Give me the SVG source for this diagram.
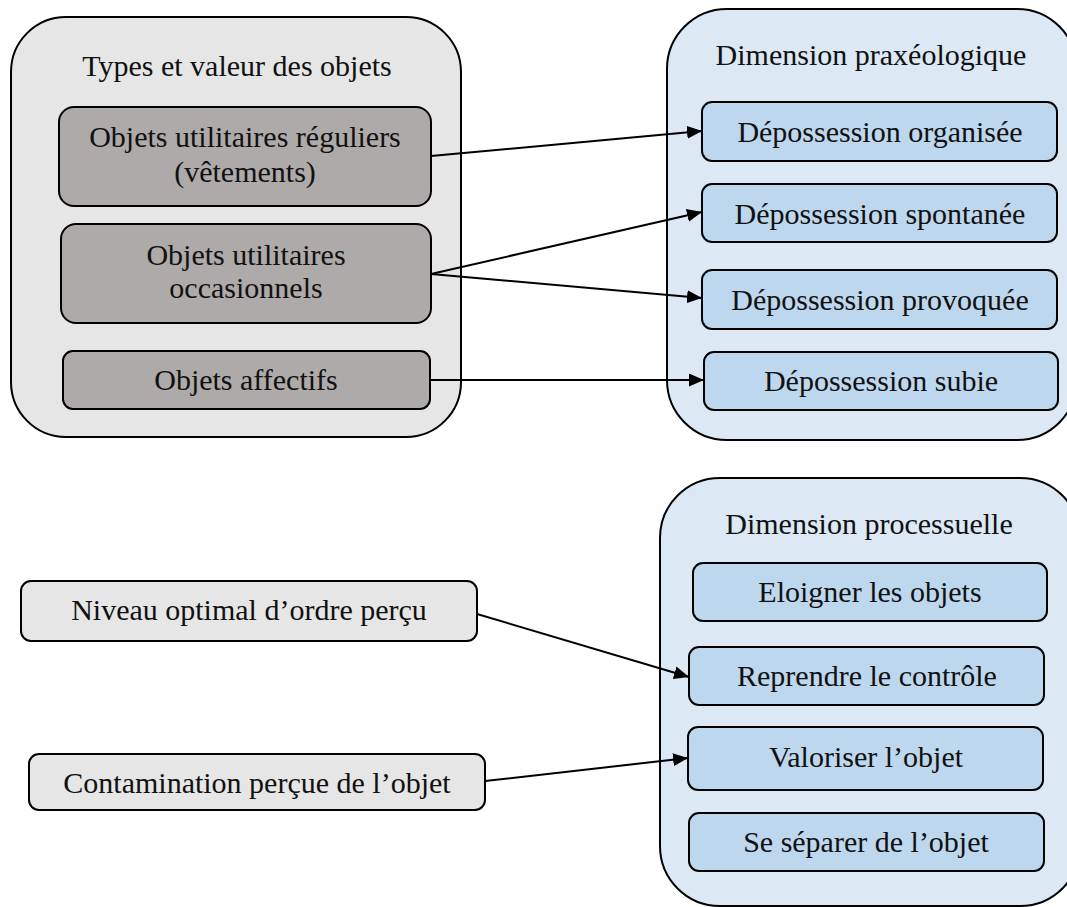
<svg xmlns="http://www.w3.org/2000/svg" width="1067" height="907" viewBox="0 0 1067 907">
<defs>
<style>
text{font-family:"Liberation Serif","DejaVu Serif",serif;font-size:30px;fill:#111;text-anchor:middle}
.outerg{fill:#e6e6e6;stroke:#000;stroke-width:2}
.outerb{fill:#dde8f5;stroke:#000;stroke-width:2}
.dark{fill:#aeaaaa;stroke:#000;stroke-width:2}
.blue{fill:#bdd7ee;stroke:#000;stroke-width:2}
.light{fill:#e6e6e6;stroke:#000;stroke-width:2}
.conn{stroke:#000;stroke-width:2;fill:none;marker-end:url(#arr)}
</style>
<marker id="arr" viewBox="0 0 10 10" refX="10" refY="5" markerWidth="15" markerHeight="13" markerUnits="userSpaceOnUse" orient="auto" preserveAspectRatio="none"><path d="M0,0 L10,5 L0,10 z" fill="#000"/></marker>
</defs>
<rect width="1067" height="907" fill="#fff"/>
<g id="types">
<rect class="outerg" x="11" y="17" width="450" height="420" rx="55"/>
<text x="237" y="76">Types et valeur des objets</text>
</g>
<g id="reguliers">
<rect class="dark" x="59" y="107" width="372" height="99" rx="15"/>
<text x="245" y="147">Objets utilitaires réguliers</text>
<text x="245" y="182">(vêtements)</text>
</g>
<g id="occasionnels">
<rect class="dark" x="61" y="224" width="370" height="99" rx="15"/>
<text x="246" y="265">Objets utilitaires</text>
<text x="246" y="298">occasionnels</text>
</g>
<g id="affectifs">
<rect class="dark" x="63" y="351" width="367" height="58" rx="10"/>
<text x="246" y="390">Objets affectifs</text>
</g>
<g id="praxeo">
<rect class="outerb" x="667" y="9" width="410" height="431" rx="60"/>
<text x="871" y="65">Dimension praxéologique</text>
</g>
<g id="organisee">
<rect class="blue" x="702" y="102" width="355" height="59" rx="10"/>
<text x="880" y="142">Dépossession organisée</text>
</g>
<g id="spontanee">
<rect class="blue" x="702" y="184" width="355" height="58" rx="10"/>
<text x="880" y="224">Dépossession spontanée</text>
</g>
<g id="provoquee">
<rect class="blue" x="702" y="270" width="355" height="59" rx="10"/>
<text x="880" y="310">Dépossession provoquée</text>
</g>
<g id="subie">
<rect class="blue" x="704" y="352" width="354" height="58" rx="10"/>
<text x="881" y="391">Dépossession subie</text>
</g>
<g id="processuelle">
<rect class="outerb" x="660" y="478" width="420" height="428" rx="60"/>
<text x="869" y="534">Dimension processuelle</text>
</g>
<g id="eloigner">
<rect class="blue" x="693" y="563" width="354" height="58" rx="10"/>
<text x="870" y="602">Eloigner les objets</text>
</g>
<g id="reprendre">
<rect class="blue" x="689" y="647" width="355" height="58" rx="10"/>
<text x="867" y="686">Reprendre le contrôle</text>
</g>
<g id="valoriser">
<rect class="blue" x="688" y="727" width="355" height="63" rx="10"/>
<text x="866" y="767">Valoriser l’objet</text>
</g>
<g id="separer">
<rect class="blue" x="689" y="813" width="355" height="58" rx="10"/>
<text x="866" y="852">Se séparer de l’objet</text>
</g>
<g id="niveau">
<rect class="light" x="21" y="581" width="456" height="60" rx="10"/>
<text x="249" y="620">Niveau optimal d’ordre perçu</text>
</g>
<g id="contamination">
<rect class="light" x="29" y="754" width="456" height="56" rx="10"/>
<text x="257" y="793">Contamination perçue de l’objet</text>
</g>
<g id="connectors">
<line class="conn" x1="431" y1="156" x2="702" y2="131"/>
<line class="conn" x1="431" y1="274" x2="702" y2="212"/>
<line class="conn" x1="431" y1="274" x2="702" y2="298"/>
<line class="conn" x1="430" y1="380" x2="704" y2="380"/>
<line class="conn" x1="477" y1="614" x2="689" y2="677"/>
<line class="conn" x1="485" y1="781" x2="688" y2="758"/>
</g>
</svg>
